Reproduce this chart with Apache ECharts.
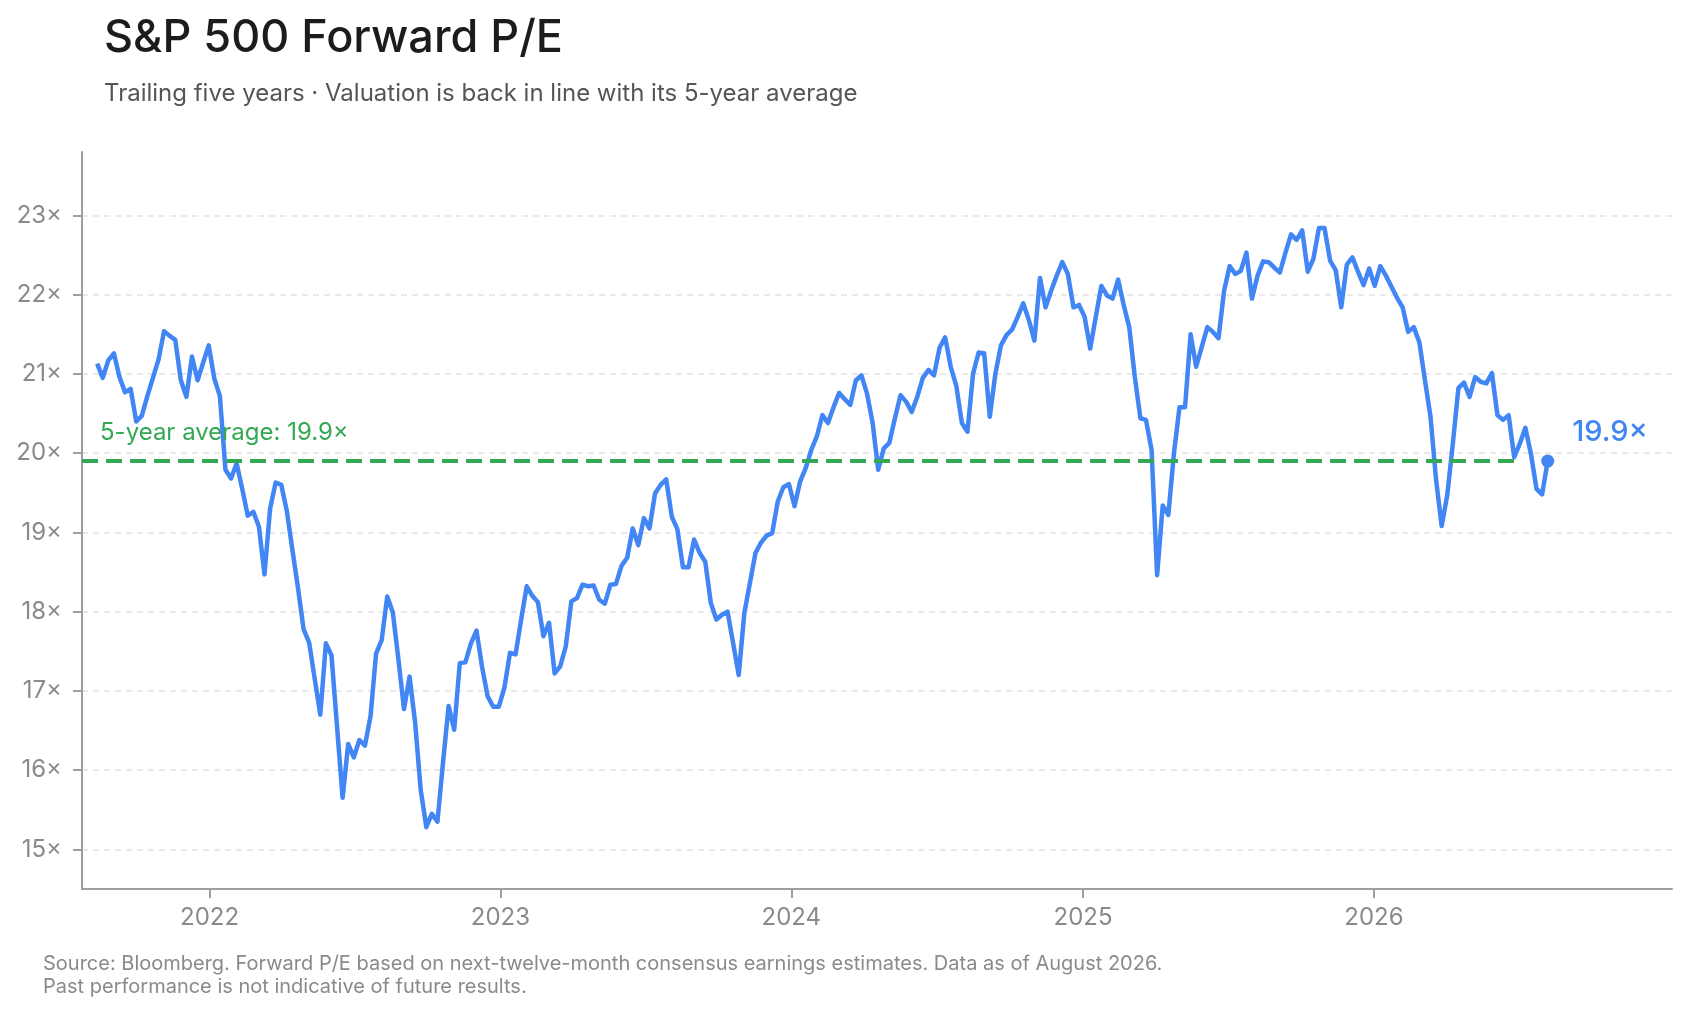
<!DOCTYPE html>
<html>
<head>
<meta charset="utf-8">
<title>S&amp;P 500 Forward P/E</title>
<script src="https://cdn.jsdelivr.net/npm/echarts@6.0.0/dist/echarts.min.js"></script>
<style>
  html, body { margin: 0; padding: 0; background: #fff; }
  #chart { width: 1692px; height: 1016px; }
</style>
</head>
<body>
<div id="chart"></div>
<script>
// weekly readings (Fridays), first one on 13 Aug 2021, one array per calendar year
const firstWeek = [2021, 7, 13];
const pe2021 = [21.13, 20.95, 21.17, 21.26, 20.96, 20.77, 20.81, 20.40, 20.47, 20.72, 20.95,
    21.18, 21.54, 21.48, 21.43, 20.92, 20.71, 21.22, 20.92, 21.14, 21.36];
const pe2022 = [20.94, 20.72, 19.79, 19.68, 19.87, 19.55, 19.21, 19.26, 19.07, 18.47, 19.30,
    19.63, 19.60, 19.27, 18.78, 18.30, 17.78, 17.61, 17.15, 16.70, 17.60, 17.45, 16.55, 15.65,
    16.33, 16.16, 16.38, 16.31, 16.68, 17.47, 17.64, 18.19, 17.99, 17.40, 16.77, 17.18, 16.60,
    15.75, 15.28, 15.45, 15.35, 16.10, 16.81, 16.51, 17.35, 17.36, 17.60, 17.76, 17.30, 16.93,
    16.80, 16.80];
const pe2023 = [17.04, 17.48, 17.46, 17.90, 18.32, 18.20, 18.12, 17.69, 17.86, 17.22, 17.31,
    17.56, 18.13, 18.17, 18.34, 18.32, 18.33, 18.15, 18.10, 18.34, 18.35, 18.58, 18.68, 19.05,
    18.84, 19.18, 19.05, 19.49, 19.60, 19.67, 19.20, 19.04, 18.56, 18.56, 18.91, 18.74, 18.63,
    18.11, 17.90, 17.96, 18.00, 17.60, 17.20, 17.98, 18.36, 18.74, 18.87, 18.96, 18.99, 19.39,
    19.57, 19.61];
const pe2024 = [19.33, 19.64, 19.81, 20.04, 20.21, 20.48, 20.38, 20.58, 20.76, 20.68, 20.61,
    20.92, 20.98, 20.75, 20.38, 19.79, 20.06, 20.13, 20.44, 20.73, 20.65, 20.52, 20.71, 20.95,
    21.05, 20.98, 21.33, 21.46, 21.09, 20.85, 20.38, 20.27, 21.00, 21.27, 21.26, 20.46, 21.00,
    21.36, 21.49, 21.56, 21.72, 21.89, 21.68, 21.42, 22.21, 21.84, 22.05, 22.24, 22.41, 22.26,
    21.84, 21.87];
const pe2025 = [21.72, 21.32, 21.72, 22.11, 21.99, 21.95, 22.19, 21.87, 21.59, 20.96, 20.44,
    20.42, 20.04, 18.46, 19.34, 19.22, 19.99, 20.58, 20.58, 21.50, 21.09, 21.34, 21.59, 21.53,
    21.45, 22.05, 22.36, 22.26, 22.30, 22.53, 21.95, 22.24, 22.42, 22.41, 22.34, 22.28, 22.53,
    22.76, 22.69, 22.81, 22.29, 22.45, 22.84, 22.84, 22.43, 22.31, 21.84, 22.38, 22.47, 22.29,
    22.12, 22.33];
const pe2026 = [22.11, 22.36, 22.24, 22.10, 21.96, 21.84, 21.53, 21.59, 21.40, 20.92, 20.46,
    19.66, 19.08, 19.47, 20.12, 20.82, 20.89, 20.71, 20.96, 20.90, 20.88, 21.01, 20.48, 20.42,
    20.48, 19.95, 20.12, 20.32, 19.99, 19.55, 19.48, 19.90];

const fiveYearAvg = 19.9;
const avgLineEnd = [2026, 5, 26];
const yTicks = [15, 16, 17, 18, 19, 20, 21, 22, 23];
const tickYears = [2022, 2023, 2024, 2025, 2026];
const xMin = [2021, 6, 25];
const xMax = [2027, 0, 10];

const title = 'S&P 500 Forward P/E';
const subtitle = 'Trailing five years · Valuation is back in line with its 5-year average';
const footnote = 'Source: Bloomberg. Forward P/E based on next-twelve-month consensus earnings estimates. Data as of August 2026.\n' +
    'Past performance is not indicative of future results.';

const blue = '#4285F4';
const green = '#34A853';
const axisGrey = '#9e9e9e';
const labelGrey = '#8a8a8a';

const ts = (y, m, d) => new Date(y, m, d).getTime();

// 把各年数据拼成 [时间戳, 值]
const peValues = [].concat(pe2021, pe2022, pe2023, pe2024, pe2025, pe2026);
const lineData = peValues.map((v, i) => [ts(firstWeek[0], firstWeek[1], firstWeek[2] + i * 7), v]);
const lastPoint = lineData[lineData.length - 1];
const yearStarts = tickYears.map(y => ts(y, 0, 1));
const minTs = ts(...xMin);
const maxTs = ts(...xMax);

const chart = echarts.init(document.getElementById('chart'), null, {renderer: 'canvas'});

const option = {
    animation: false,
    backgroundColor: '#fff',
    textStyle: {fontFamily: 'Inter, "Noto Sans", sans-serif'},
    title: [
        {
            text: title,
            subtext: subtitle,
            left: 104,
            top: 12,
            padding: 0,
            itemGap: 15,
            textStyle: {fontFamily: 'Inter', fontSize: 45, fontWeight: 500, color: '#1c1c1c', lineHeight: 52},
            subtextStyle: {fontFamily: 'Inter', fontSize: 24, color: '#555', lineHeight: 30}
        },
        {
            text: footnote,
            left: 43,
            top: 952,
            padding: 0,
            textStyle: {fontFamily: 'Inter', fontSize: 20, fontWeight: 400, color: labelGrey, lineHeight: 23}
        }
    ],
    grid: {left: 82, right: 20, top: 152, bottom: 127, containLabel: false},
    xAxis: {
        type: 'value',
        min: minTs,
        max: maxTs,
        axisLine: {show: true, lineStyle: {color: axisGrey, width: 2}},
        axisTick: {show: true, length: 9, customValues: yearStarts, lineStyle: {color: axisGrey, width: 2}},
        axisLabel: {
            customValues: yearStarts,
            formatter: v => String(new Date(v).getFullYear()),
            color: labelGrey,
            fontSize: 24,
            margin: 17
        },
        splitLine: {show: false}
    },
    yAxis: {
        type: 'value',
        min: 14.5,
        max: 23.8,
        axisLine: {show: true, lineStyle: {color: axisGrey, width: 2}},
        axisTick: {show: true, length: 9, customValues: yTicks, lineStyle: {color: axisGrey, width: 2}},
        axisLabel: {
            customValues: yTicks,
            formatter: v => v + '×',
            color: labelGrey,
            fontSize: 24,
            margin: 20
        },
        splitLine: {show: true, lineStyle: {color: '#e2e2e2', width: 1.5, type: [6, 5]}}
    },
    series: [
        {
            name: 'Forward P/E',
            type: 'line',
            data: lineData,
            symbol: 'none',
            showSymbol: false,
            lineStyle: {color: blue, width: 4.5, join: 'round'},
            itemStyle: {color: blue},
            z: 3,
            markLine: {
                silent: true,
                symbol: 'none',
                animation: false,
                lineStyle: {color: green, width: 4, type: [16, 8]},
                label: {
                    show: true,
                    position: 'insideStartTop',
                    formatter: '5-year average: ' + fiveYearAvg.toFixed(1) + '×',
                    color: green,
                    fontSize: 24,
                    distance: [18, 16]
                },
                data: [[{coord: [minTs, fiveYearAvg]}, {coord: [ts(...avgLineEnd), fiveYearAvg]}]]
            }
        },
        {
            name: 'Latest',
            type: 'scatter',
            data: [lastPoint],
            symbolSize: 13,
            itemStyle: {color: blue, opacity: 1},
            z: 4,
            label: {
                show: true,
                position: 'right',
                distance: 18,
                offset: [0, -29],
                formatter: p => p.value[1].toFixed(1) + '×',
                color: blue,
                fontSize: 29,
                fontWeight: 500
            }
        }
    ]
};
chart.setOption(option);
</script>
</body>
</html>
